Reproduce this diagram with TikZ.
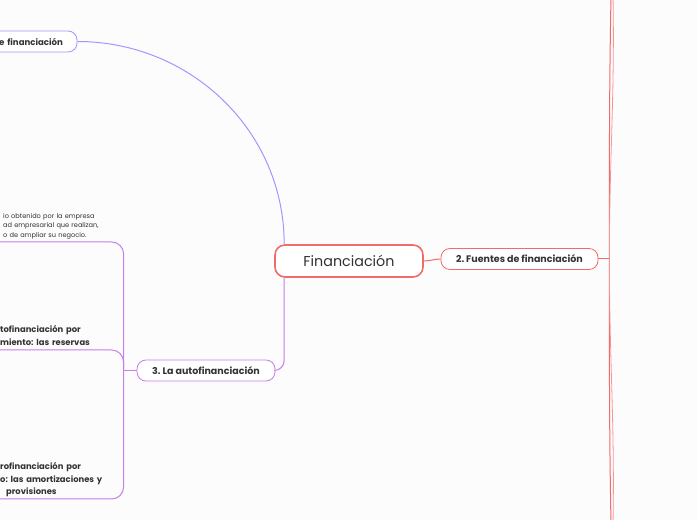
\documentclass[tikz,border=0pt]{standalone}
\usepackage{fontspec}
\setmainfont{Poppins}
\usepackage{tikz}
\usetikzlibrary{positioning, calc}
\frenchspacing

\definecolor{rootred}{HTML}{F26B6B}
\definecolor{autopurple}{HTML}{C77EE9}
\definecolor{fuenblue}{HTML}{A395FF}
\definecolor{inktext}{HTML}{333333}

\begin{document}
\begin{tikzpicture}[
  x=1pt, y=1pt,
  font=\fontsize{8}{10}\selectfont, text=inktext,
  root/.style={draw=rootred, line width=1.6pt, rounded corners=10pt, fill=white,
    minimum width=148pt, minimum height=32pt, font=\fontsize{14.3}{16}\selectfont},
  topic/.style={draw, line width=0.8pt, rounded corners=9pt, fill=white,
    minimum height=21pt, font=\fontsize{9.5}{11}\selectfont\bfseries},
  note/.style={text width=110pt, align=left, inner sep=0pt, anchor=south west},
  link/.style={line width=1pt},
]
  \useasboundingbox (0,0) rectangle (697,520);
  \fill[white!99!black] (0,0) rectangle (697,520);

  % Main topic and subtopics
  \node[root] (fin) at (349,259) {Financiación};
  \node[topic, draw=rootred, minimum width=157pt] (fuentes) at (519.5,261) {2. Fuentes de financiación};
  \node[topic, draw=autopurple, minimum width=138pt] (autof) at (206,149.5) {3. La autofinanciación};
  \node[topic, draw=fuenblue, text width=118pt, align=right, inner xsep=14pt,
        font=\fontsize{8.6}{10}\selectfont\bfseries] (necesid) at (4,478.5) {e financiación};

  % Notes under La autofinanciacion
  \node[note, font=\fontsize{6.6}{9.5}\selectfont] (beneficio) at (3,281)
        {io obtenido por la empresa\\ad empresarial que realizan,\\o de ampliar su negocio.};
  \node[note, font=\fontsize{8.4}{13}\selectfont\bfseries] (reservas) at (0,174)
        {tofinanciación por\\miento: las reservas};
  \node[note, font=\fontsize{8.4}{12.5}\selectfont\bfseries] (amortiz) at (0,23)
        {rofinanciación por\\o: las amortizaciones y\\\hspace*{6pt}provisiones};

  % Connections from the main topic
  \draw[link, fuenblue] (necesid.east) to[out=0, in=90] ($(fin.north west)+(10,0)$);
  \draw[link, autopurple, rounded corners=10pt] ($(fin.south west)+(10,0)$) |- (autof.east);
  \draw[link, rootred] (fin.east) to[out=0, in=180] (fuentes.west);

  % Right branch (children off the page)
  \coordinate (hubR) at ($(fuentes.east)+(11,0)$);
  \coordinate (upA) at (611,525);
  \coordinate (upB) at (613,525);
  \coordinate (downA) at (611,-5);
  \coordinate (downB) at (613,-5);
  \draw[link, rootred] (fuentes.east) -- (hubR);
  \draw[rootred, line width=1pt] (hubR) to[out=90, in=-91] (upA);
  \draw[rootred!70, line width=0.8pt] (hubR) to[out=90, in=-89] (upB);
  \draw[rootred, line width=1pt] (hubR) to[out=-90, in=91] (downA);
  \draw[rootred!70, line width=0.8pt] (hubR) to[out=-90, in=89] (downB);

  % Left branch with underlined notes
  \coordinate (hubL) at ($(autof.west)+(-13,0)$);
  \draw[link, autopurple] (autof.west) -- (hubL);
  \draw[link, autopurple, rounded corners=12pt] (hubL) |- ($(beneficio.south west)+(-6,-3)$);
  \draw[link, autopurple, rounded corners=12pt] (hubL) |- ($(reservas.south west)+(-3,-4)$);
  \draw[link, autopurple, rounded corners=12pt] (hubL) |- ($(amortiz.south west)+(-3,-2)$);
\end{tikzpicture}
\end{document}
